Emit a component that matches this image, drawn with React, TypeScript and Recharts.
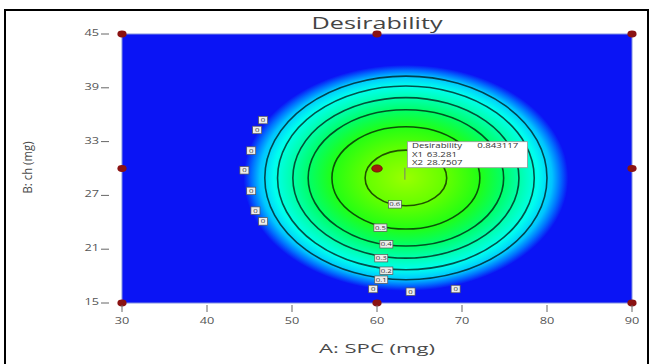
import React from 'react';
import { ScatterChart, Scatter, XAxis, YAxis, ReferenceArea } from 'recharts';

// ---------- axes ----------
const xDomain = [30, 90];
const yDomain = [15, 45];
const xTicks = [30, 40, 50, 60, 70, 80, 90];
const yTicks = [15, 21, 27, 33, 39, 45];

// ---------- design points ----------
const designX = [30, 60, 90, 30, 90, 30, 60, 90];
const designY = [15, 15, 15, 30, 30, 45, 45, 45];
const centreX = [60];
const centreY = [30];

// ---------- optimum flag ----------
const optimumX = 63.281;
const optimumY = 28.7507;
const optimumDesirability = '0.843117';

// ---------- contour levels (ellipse fits) ----------
const contourLevels = [0, 0.1, 0.2, 0.3, 0.4, 0.5, 0.6];
const contourCentreX = 63.4;
const contourCentreY = 28.95;
const contourHalfWidth = [19.1, 16.6, 15.1, 13.3, 11.5, 8.7, 4.8];
const contourHalfHeight = [12.6, 11.35, 10.25, 8.95, 7.6, 5.7, 3.1];

// ---------- contour labels ----------
const labelText = ['0', '0', '0', '0', '0', '0', '0', '0', '0', '0', '0.1', '0.2', '0.3', '0.4', '0.5', '0.6'];
const labelX = [46.6, 45.9, 45.2, 44.4, 45.2, 45.7, 46.6, 59.55, 63.95, 69.25, 60.5, 61.1, 60.5, 61.1, 60.4, 62.1];
const labelY = [35.4, 34.3, 32.0, 29.8, 27.5, 25.3, 24.1, 16.56, 16.26, 16.56, 17.6, 18.6, 20.0, 21.55, 23.4, 26.0];

// ---------- styles ----------
const FONT = '"Open Sans", "DejaVu Sans", sans-serif';
const STRETCH = 1.42;
const BG_BLUE = '#0a14f5';
const PEAK_COLOUR = '#9aff00';
const RING_COLOURS = [BG_BLUE, '#00c4ff', '#00ffee', '#00ffb0', '#00ff6a', '#22ff14', '#64ff00'];
const GLOW_COLOUR = '#0070ff';
const MARKER = '#8a1212';

const designData = designX.map((x, i) => ({ x, y: designY[i] }));
const centreData = centreX.map((x, i) => ({ x, y: centreY[i] }));
const flagData = [{ x: optimumX, y: optimumY }];
const labelData = labelText.map((t, i) => ({ x: labelX[i], y: labelY[i], t }));

const gradientStops = (() => {
  const stops: { offset: number; color: string }[] = [{ offset: 0, color: PEAK_COLOUR }];
  for (let i = contourLevels.length - 1; i >= 1; i--) {
    stops.push({ offset: contourHalfHeight[i] / contourHalfHeight[0], color: RING_COLOURS[i] });
  }
  stops.push({ offset: (1 + contourHalfHeight[1] / contourHalfHeight[0]) / 2, color: GLOW_COLOUR });
  stops.push({ offset: 1, color: RING_COLOURS[0] });
  return stops;
})();

const XTick = (props: any) => {
  const { x, y, payload } = props;
  return (
    <g>
      <line x1={x} x2={x} y1={y + 2} y2={y + 9} stroke="#666" strokeWidth={1} />
      <text
        transform={`translate(${x},${y + 21}) scale(${STRETCH},1)`}
        textAnchor="middle"
        fontSize={9}
        fontFamily={FONT}
        fill="#555"
      >
        {payload.value}
      </text>
    </g>
  );
};

const YTick = (props: any) => {
  const { x, y, payload } = props;
  return (
    <g>
      <line x1={x - 21} x2={x - 13} y1={y} y2={y} stroke="#666" strokeWidth={1} />
      <text
        transform={`translate(${x - 23},${y + 2}) scale(${STRETCH},1)`}
        textAnchor="end"
        fontSize={9}
        fontFamily={FONT}
        fill="#555"
      >
        {payload.value}
      </text>
    </g>
  );
};

const PlotBackground = (props: any) => {
  const { x, y, width, height } = props;
  return <rect x={x} y={y} width={width} height={height} fill={BG_BLUE} stroke="#8090e0" strokeWidth={1} />;
};

const GradientEllipse = (props: any) => {
  const { x, y, width, height } = props;
  return (
    <g>
      <defs>
        <radialGradient id="desirGrad" cx="50%" cy="50%" r="50%">
          {gradientStops.map((s, i) => (
            <stop key={i} offset={s.offset} stopColor={s.color} />
          ))}
        </radialGradient>
      </defs>
      <ellipse cx={x + width / 2} cy={y + height / 2} rx={width / 2} ry={height / 2} fill="url(#desirGrad)" />
    </g>
  );
};

const ContourEllipse = (props: any) => {
  const { x, y, width, height } = props;
  return (
    <ellipse
      cx={x + width / 2}
      cy={y + height / 2}
      rx={width / 2}
      ry={height / 2}
      fill="none"
      stroke="#000"
      strokeOpacity={0.68}
      strokeWidth={1.6}
    />
  );
};

const DesignMarker = (props: any) => {
  const { cx, cy } = props;
  return <ellipse cx={cx} cy={cy} rx={4.6} ry={3.4} fill={MARKER} />;
};

const CentreMarker = (props: any) => {
  const { cx, cy } = props;
  return <ellipse cx={cx} cy={cy} rx={5.3} ry={3.6} fill="#a31a0c" stroke="#6a0a05" strokeWidth={0.8} />;
};

const ContourLabel = (props: any) => {
  const { cx, cy, payload } = props;
  const t = payload.t;
  const w = t.length > 1 ? 13 : 9;
  const h = 7.5;
  return (
    <g>
      <rect x={cx - w / 2} y={cy - h / 2} width={w} height={h} fill="#ececec" stroke="#555" strokeWidth={0.7} />
      <text
        transform={`translate(${cx},${cy + 2}) scale(${STRETCH},1)`}
        textAnchor="middle"
        fontSize={5.5}
        fontFamily={FONT}
        fill="#333"
      >
        {t}
      </text>
    </g>
  );
};

const Flag = (props: any) => {
  const { cx, cy } = props;
  const bx = cx + 2.5;
  const by = cy - 38;
  const bw = 120;
  const bh = 26;
  const line = (label: string, value: string, dy: number, valueOffset: number) => (
    <g transform={`translate(${bx + 4.5},${by + dy}) scale(${STRETCH},1)`}>
      <text x={0} y={0} fontSize={6.8} fontFamily={FONT} fill="#333">{label}</text>
      <text x={valueOffset} y={0} fontSize={6.8} fontFamily={FONT} fill="#333">{value}</text>
    </g>
  );
  return (
    <g>
      <line x1={cx} x2={cx} y1={cy} y2={by + bh} stroke="#777" strokeWidth={1} />
      <rect x={bx} y={by} width={bw} height={bh} fill="#fff" stroke="#999" strokeWidth={0.8} />
      {line('Desirability', optimumDesirability, 6.5, 46)}
      {line('X1', String(optimumX), 14.8, 10.5)}
      {line('X2', String(optimumY), 23, 10.5)}
    </g>
  );
};

export default function App() {
  return (
    <div style={{ position: 'absolute', left: 0, top: 0, width: 650, height: 364, background: '#fff' }}>
      <ScatterChart width={650} height={364} margin={{ top: 34, right: 18, bottom: 0, left: 0 }}>
        <XAxis
          type="number"
          dataKey="x"
          domain={xDomain}
          ticks={xTicks}
          interval={0}
          height={61}
          axisLine={false}
          tickLine={false}
          tickSize={0}
          tickMargin={0}
          tick={<XTick />}
        />
        <YAxis
          type="number"
          dataKey="y"
          domain={yDomain}
          ticks={yTicks}
          interval={0}
          width={122}
          axisLine={false}
          tickLine={false}
          tickSize={0}
          tickMargin={0}
          tick={<YTick />}
        />
        <ReferenceArea x1={xDomain[0]} x2={xDomain[1]} y1={yDomain[0]} y2={yDomain[1]} shape={PlotBackground} />
        <ReferenceArea
          x1={contourCentreX - contourHalfWidth[0]}
          x2={contourCentreX + contourHalfWidth[0]}
          y1={contourCentreY - contourHalfHeight[0]}
          y2={contourCentreY + contourHalfHeight[0]}
          shape={GradientEllipse}
        />
        {contourLevels.map((lvl, i) =>
          i === 0 ? null : (
            <ReferenceArea
              key={`c${lvl}`}
              x1={contourCentreX - contourHalfWidth[i]}
              x2={contourCentreX + contourHalfWidth[i]}
              y1={contourCentreY - contourHalfHeight[i]}
              y2={contourCentreY + contourHalfHeight[i]}
              shape={ContourEllipse}
            />
          )
        )}
        <Scatter data={designData} shape={DesignMarker} isAnimationActive={false} />
        <Scatter data={centreData} shape={CentreMarker} isAnimationActive={false} />
        <Scatter data={labelData} shape={ContourLabel} isAnimationActive={false} />
        <Scatter data={flagData} shape={Flag} isAnimationActive={false} />
      </ScatterChart>
      <svg
        width={650}
        height={364}
        style={{ position: 'absolute', left: 0, top: 0, pointerEvents: 'none' }}
      >
        <rect x={5} y={10} width={643} height={362} fill="none" stroke="#000" strokeWidth={2} />
        <text x={377} y={29} textAnchor="middle" fontSize={16.5} fontFamily={FONT} fill="#444" textLength={131} lengthAdjust="spacingAndGlyphs">
          Desirability
        </text>
        <text x={377} y={353} textAnchor="middle" fontSize={12.5} fontFamily={FONT} fill="#4a4a4a" textLength={116} lengthAdjust="spacingAndGlyphs">
          A: SPC (mg)
        </text>
        <g transform="translate(27.5,167.5) rotate(-90)">
          <text x={0} y={0} textAnchor="middle" dominantBaseline="central" fontSize={12.5} fontFamily={FONT} fill="#4a4a4a" textLength={52} lengthAdjust="spacingAndGlyphs">
            B: ch (mg)
          </text>
        </g>
      </svg>
    </div>
  );
}
